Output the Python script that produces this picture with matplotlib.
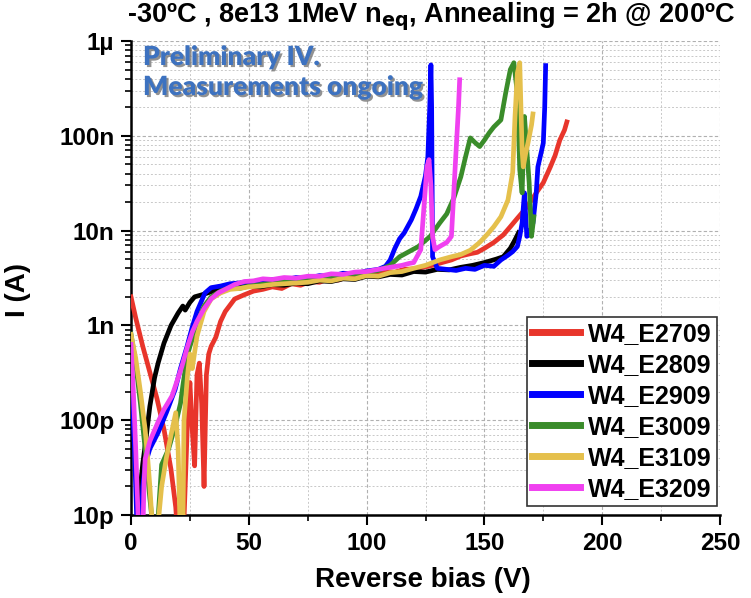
import numpy as np
import matplotlib
matplotlib.use("Agg")
import matplotlib.pyplot as plt
from matplotlib.ticker import FixedLocator, FixedFormatter, LogLocator, MultipleLocator, NullFormatter
import matplotlib.patheffects as pe

plt.rcParams['font.family'] = ['Liberation Sans', 'DejaVu Sans']
plt.rcParams['font.weight'] = 'bold'

# ---------------- data (current in nA) ----------------
labels = ["W4_E2709", "W4_E2809", "W4_E2909", "W4_E3009", "W4_E3109", "W4_E3209"]
colors = ["#e8352b", "#000000", "#0000ff", "#3a8c2a", "#e5c04c", "#f040f0"]

red_V = [0, 2, 5, 8, 11, 14, 17, 19, 20, 22, 24, 25, 26, 27, 28, 29, 30, 31, 32, 33, 34, 36, 38, 40, 44, 48, 52,
         56, 60, 64, 68, 72, 76, 80, 84, 88, 92, 96, 100, 104, 108, 112, 116, 120, 124, 128, 132, 136, 140,
         144, 147, 150, 154, 158, 161, 164, 167, 170, 172, 175, 178, 180, 182, 184, 185]
red_I = [2.0, 1.2, 0.6, 0.32, 0.17, 0.08, 0.03, 0.012, 0.005, 0.004, 0.1, 0.25, 0.08, 0.033, 0.3, 0.4, 0.15,
         0.02, 0.3, 0.5, 0.6, 0.75, 1.1, 1.4, 1.9, 2.1, 2.3,
         2.4, 2.55, 2.45, 2.75, 2.65, 2.9, 2.85, 3.1, 3.0, 3.3, 3.2, 3.5, 3.45, 3.7, 3.65, 3.9, 3.95, 4.1, 4.3,
         4.6, 4.9, 5.4, 5.7, 5.9, 6.5, 7.5, 9.0, 11, 13.5, 16.5, 21, 25, 32, 47, 62, 90, 115, 140]

black_V = [2, 3.5, 5, 6, 8, 10, 11.5, 14, 17, 20, 22, 23, 25, 27, 30, 35, 40, 45, 50, 55, 60, 65, 70, 75, 80,
           85, 90, 95, 100, 105, 110, 115, 120, 125, 130, 135, 140, 145, 150, 155, 158, 161, 163, 164.5]
black_I = [0.005, 0.015, 0.035, 0.054, 0.14, 0.28, 0.4, 0.65, 1.0, 1.35, 1.6, 1.45, 1.75, 2.0, 2.1, 2.3, 2.4,
           2.5, 2.6, 2.55, 2.7, 2.65, 2.8, 2.75, 2.95, 2.9, 3.1, 3.05, 3.3, 3.25, 3.45, 3.4, 3.7, 3.65, 3.9, 3.85,
           4.1, 4.3, 4.6, 5.0, 5.3, 6.5, 8.0, 9.5]

blue_V = [0, 1.5, 2.5, 4, 5, 6, 8, 11.5, 15, 18.7, 21, 23.8, 26, 28, 31.4, 34, 38, 42, 46, 50, 55, 60, 65, 70,
          75, 80, 85, 90, 95, 100, 105, 108, 110, 112, 114, 116, 119, 121, 123, 125, 126, 126.8, 127.3, 127.6,
          128, 130, 134, 138, 142, 146, 150, 154, 157, 160, 162, 164, 165, 166, 167, 168, 169, 170.6, 172,
          172.7, 174, 175, 175.6, 176]
blue_I = [0.3, 0.05, 0.008, 0.005, 0.02, 0.034, 0.05, 0.074, 0.12, 0.21, 0.35, 0.6, 0.96, 1.4, 2.2, 2.5, 2.6,
          2.75, 2.8, 2.9, 2.85, 3.05, 3.0, 3.2, 3.15, 3.35, 3.3, 3.55, 3.5, 3.75, 3.9, 4.2, 4.9, 6.5, 8.2, 9.5,
          13, 17, 23, 38, 60, 200, 560, 200, 5.3, 4.0, 3.9, 3.8, 4.0, 3.9, 4.3, 4.2, 4.9, 5.5, 6.0, 6.8, 8.7,
          12, 25, 8.7, 9.0, 12, 25, 47, 65, 84, 200, 550]

green_V = [0, 2, 4, 6, 8, 10, 11, 13, 16, 18.7, 21, 22, 23.8, 25, 27, 29, 31, 34, 38, 42, 46, 50, 55, 60, 65,
           70, 75, 80, 85, 90, 95, 100, 105, 110, 114, 118, 122, 127, 131, 134, 137, 140, 142, 144, 146, 148,
           150, 152, 154, 157, 159, 161, 162.5, 164, 165, 166, 167, 168, 169, 170, 171]
green_I = [0.81, 0.4, 0.15, 0.05, 0.015, 0.005, 0.006, 0.034, 0.05, 0.086, 0.15, 0.23, 0.47, 0.6, 0.84, 1.2,
           1.6, 2.0, 2.3, 2.5, 2.45, 2.6, 2.7, 2.8, 2.9, 3.0, 3.1, 3.2, 3.3, 3.4, 3.5, 3.6, 3.8, 4.3, 5.3,
           6.0, 6.8, 8.7, 12, 15, 22, 37, 60, 95, 85, 77, 90, 107, 124, 147, 280, 500, 590, 280, 44, 25, 160,
           71, 32, 8.7, 14]

yellow_V = [0, 2, 4, 6, 7, 8, 9, 10, 11.5, 13, 15, 17, 19, 20, 21, 22, 22.5, 24, 25, 26, 28, 31, 34, 38, 42,
            46, 50, 55, 60, 65, 70, 75, 80, 85, 90, 95, 100, 105, 110, 115, 120, 125, 131, 136, 140, 144, 148,
            151, 154, 157, 160, 162, 163, 164, 165, 165.5, 166, 166.5, 167.5, 168.5, 170, 170.6]
yellow_I = [0.8, 0.45, 0.2, 0.08, 0.042, 0.02, 0.008, 0.005, 0.008, 0.02, 0.04, 0.07, 0.12, 0.05, 0.005, 0.006,
            0.1, 0.3, 0.5, 0.35, 0.77, 1.4, 1.9, 2.2, 2.4, 2.45, 2.55, 2.6, 2.7, 2.75, 2.8, 2.85, 3.0, 2.95, 3.15,
            3.1, 3.35, 3.3, 3.6, 3.7, 4.0, 4.3, 4.9, 5.3, 5.6, 6.2, 7.5, 9.0, 11, 14, 21, 41, 160, 460, 590,
            200, 71, 47, 65, 84, 130, 170]

magenta_V = [0, 1, 2, 3, 4, 5, 5.5, 6, 8, 11.5, 14, 17.4, 20, 21.6, 24, 26, 28, 31, 34, 37, 40, 44, 48, 52, 56,
             60, 65, 70, 75, 80, 85, 90, 95, 100, 105, 110, 115, 118, 120, 123, 124.5, 125.6, 126.5, 127.3, 128,
             129, 131, 134, 136, 137, 138, 139, 139.5]
magenta_I = [0.63, 0.2, 0.05, 0.01, 0.005, 0.006, 0.02, 0.039, 0.06, 0.096, 0.13, 0.18, 0.28, 0.37, 0.6, 0.85,
             1.1, 1.5, 1.9, 2.2, 2.4, 2.7, 2.9, 2.95, 3.1, 3.05, 3.2, 3.15, 3.3, 3.3, 3.5, 3.45, 3.65, 3.7, 3.9,
             4.1, 4.3, 4.5, 4.6, 6.3, 20, 47, 56, 30, 8.7, 6.3, 6.8, 7.5, 8.7, 25, 71, 200, 390]

series_V = [red_V, black_V, blue_V, green_V, yellow_V, magenta_V]
series_I = [red_I, black_I, blue_I, green_I, yellow_I, magenta_I]

ytick_vals = [1e-11, 1e-10, 1e-9, 1e-8, 1e-7, 1e-6]
ytick_labels = ["10p", "100p", "1n", "10n", "100n", "1\u00b5"]
xtick_vals = [0, 50, 100, 150, 200, 250]

# ---------------- figure ----------------
fig = plt.figure(figsize=(7.51, 5.98), dpi=100)
ax = fig.add_axes([131/751, 1-515/598, (720-131)/751, (515-41)/598])

for V, I, c, lab in zip(series_V, series_I, colors, labels):
    ax.plot(V, np.array(I) * 1e-9, color=c, lw=3.4, label=lab, solid_joinstyle='round', zorder=3)

ax.set_yscale('log')
ax.set_xlim(0, 250)
ax.set_ylim(1e-11, 1e-6)
ax.yaxis.set_major_locator(FixedLocator(ytick_vals))
ax.yaxis.set_major_formatter(FixedFormatter(ytick_labels))
ax.yaxis.set_minor_locator(LogLocator(base=10, subs=np.arange(2, 10), numticks=20))
ax.yaxis.set_minor_formatter(NullFormatter())
ax.xaxis.set_major_locator(FixedLocator(xtick_vals))
ax.xaxis.set_minor_locator(MultipleLocator(25))

ax.tick_params(axis='both', which='major', direction='out', length=7, width=1.5, labelsize=17.5)
ax.tick_params(axis='both', which='minor', direction='out', length=4, width=1.2)
ax.tick_params(axis='y', which='major', pad=5)
ax.tick_params(axis='x', which='major', pad=5)
for t in ax.get_xticklabels() + ax.get_yticklabels():
    t.set_fontweight('bold')

ax.grid(True, which='major', axis='both', color='#b0b0b0', ls=(0, (3, 2)), lw=0.8)
ax.grid(True, which='minor', axis='both', color='#c8c8c8', ls=(0, (2, 2)), lw=0.7)
ax.set_axisbelow(True)

for s in ['top', 'right']:
    ax.spines[s].set_visible(False)
for s in ['left', 'bottom']:
    ax.spines[s].set_linewidth(1.8)

leg = ax.legend(loc='lower right', bbox_to_anchor=(1.0 - 3/589, 9/474), fontsize=18, frameon=True,
                fancybox=False, framealpha=1, edgecolor='#333333', handlelength=1.9,
                handletextpad=0.35, labelspacing=0.28, borderpad=0.2, borderaxespad=0)
leg.get_frame().set_linewidth(1.2)
for line in leg.get_lines():
    line.set_linewidth(5)
for t in leg.get_texts():
    t.set_fontweight('bold')

fig.text(431/751, 1-17/598, "-30\u00baC , 8e13 1MeV n$_{\\mathbf{eq}}$, Annealing = 2h @ 200\u00baC",
         ha='center', va='center', fontsize=19.5, fontweight='bold')
fig.text(423/751, 1-580/598, "Reverse bias (V)", ha='center', va='center', fontsize=20, fontweight='bold')
fig.text(18/751, 1-290/598, "I (A)", ha='center', va='center', rotation=90, fontsize=20, fontweight='bold')

ax.text(143/751, 1-45/598, "Preliminary IV.\nMeasurements ongoing", transform=fig.transFigure,
        ha='left', va='top', fontsize=19, fontweight='heavy', color='#3d72c0',
        family=['Lato', 'DejaVu Sans'], linespacing=1.3,
        path_effects=[pe.withSimplePatchShadow(offset=(1.5, -1.5), shadow_rgbFace='#777777', alpha=0.8)])

fig.savefig("out.png", dpi=100)
